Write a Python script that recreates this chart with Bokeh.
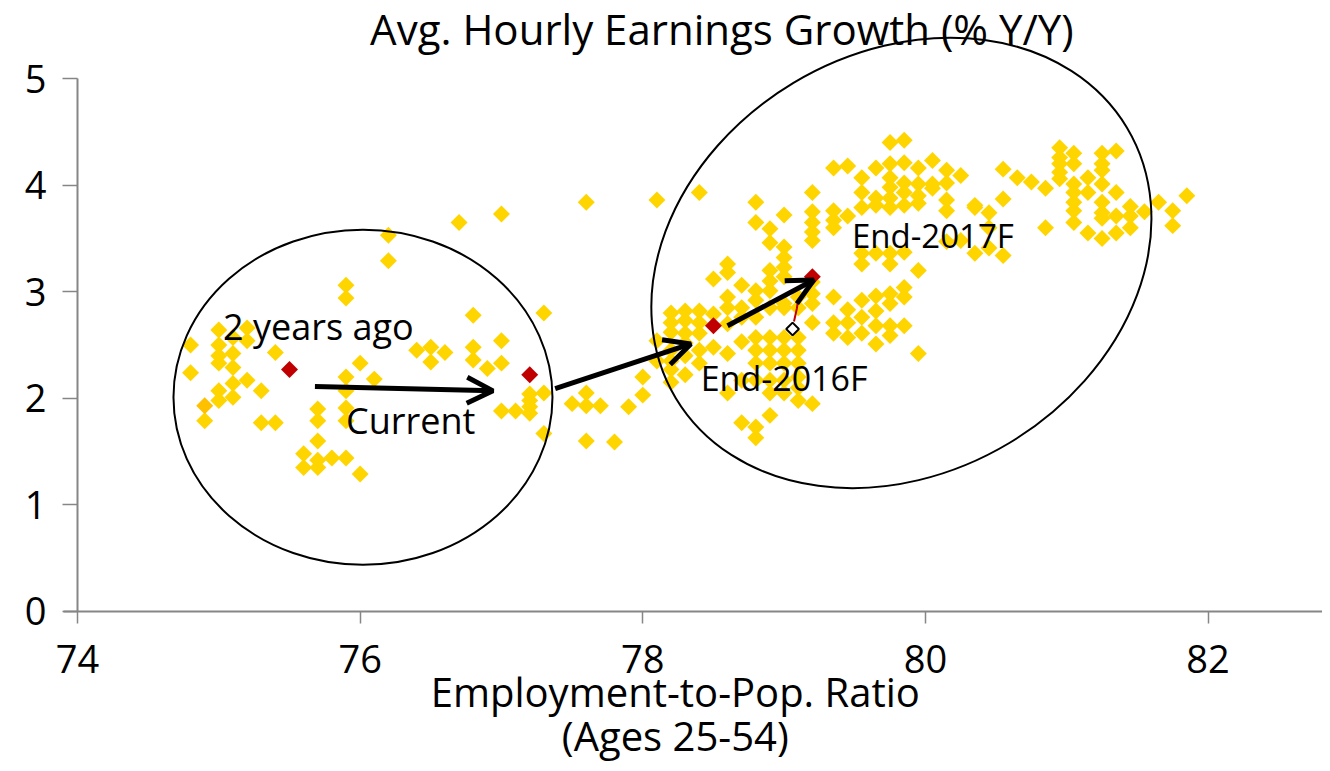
import math
from bokeh.plotting import figure
from bokeh.models import (Range1d, FixedTicker, Label, Arrow, OpenHead,
                          ColumnDataSource)
from bokeh.embed import file_html
from bokeh.resources import INLINE

# ---------------- data ----------------
# historical observations, grouped by employment-to-pop ratio column
col_emp = [74.8, 74.9, 75.0, 75.1, 75.2, 75.3, 75.4, 75.6, 75.7, 75.8,
           75.9, 76.0, 76.1, 76.2, 76.4, 76.5, 76.6, 76.7, 76.8, 76.9,
           77.0, 77.1, 77.2, 77.3, 77.5, 77.6, 77.7, 77.8, 77.9, 78.0,
           78.1, 78.2, 78.3, 78.4, 78.5, 78.6, 78.7, 78.8, 78.9, 79.0,
           79.1, 79.2, 79.35, 79.45, 79.55, 79.65, 79.75, 79.85, 79.95, 80.05,
           80.15, 80.25, 80.35, 80.45, 80.55, 80.65, 80.75, 80.85, 80.95, 81.05,
           81.15, 81.25, 81.35, 81.45, 81.55, 81.65, 81.75, 81.85]
col_ahe = [
    [2.50, 2.24], [1.79], [2.64, 2.50, 2.40, 2.33, 2.07, 1.98],
    [2.57, 2.42, 2.29, 2.14, 2.01], [2.66, 2.54, 2.17], [2.07, 1.77],
    [2.43, 1.77], [1.48, 1.35], [1.90, 1.79, 1.60, 1.42, 1.35], [1.44],
    [3.06, 2.94, 2.20, 2.07, 1.91, 1.79, 1.44], [2.33, 1.29], [2.18],
    [3.53, 3.29], [2.45], [2.48, 2.34], [2.43], [3.65], [2.78, 2.48, 2.36],
    [2.28], [3.73, 2.54, 2.33, 1.88], [1.88], [2.04, 1.98, 1.92, 1.86],
    [2.80, 2.05, 1.67], [1.95], [3.84, 2.05, 1.93, 1.60], [1.93], [1.59],
    [1.92], [2.03, 2.20],
    [3.86, 2.54, 2.35], [2.80, 2.71, 2.62, 2.45, 2.35, 2.27, 2.15],
    [2.82, 2.73, 2.61, 2.52, 2.40, 2.22], [3.93, 2.82, 2.71, 2.61, 2.45, 2.33],
    [3.12, 2.79, 2.48], [3.26, 3.18, 2.95, 2.85, 2.70, 2.42, 2.05],
    [3.06, 2.85, 2.76, 2.53, 2.17, 1.77],
    [3.84, 3.65, 3.01, 2.92, 2.76, 2.57, 2.45, 2.33, 2.17, 1.73, 1.63],
    [3.59, 3.46, 3.20, 3.10, 3.01, 2.85, 2.57, 2.45, 2.33, 2.17, 2.05, 1.84],
    [3.72, 3.42, 3.32, 3.23, 3.14, 2.89, 2.85, 2.57, 2.45, 2.33, 2.17, 2.05],
    [2.95, 2.85, 2.57, 2.45, 2.33, 2.20, 2.10, 1.98],
    [3.93, 3.75, 3.65, 3.56, 3.48, 3.09, 2.98, 2.89, 2.71, 1.95],
    [4.16, 3.76, 3.67, 3.60, 2.95, 2.71, 2.61], [4.18, 3.71, 2.83, 2.71, 2.57],
    [4.07, 3.93, 3.79, 3.36, 3.26, 2.92, 2.76, 2.61],
    [4.16, 3.88, 3.81, 3.36, 2.96, 2.82, 2.68, 2.51],
    [4.40, 4.20, 4.07, 3.98, 3.88, 3.79, 3.36, 3.26, 2.98, 2.89, 2.68, 2.59],
    [4.42, 4.21, 4.02, 3.93, 3.81, 3.37, 3.04, 2.95, 2.68],
    [4.16, 4.01, 3.90, 3.83, 3.20, 2.42], [4.23, 4.01, 3.97],
    [4.14, 4.02, 3.86, 3.76, 3.47], [4.09, 3.48], [3.81, 3.79, 3.36],
    [3.74, 3.60, 3.41], [4.15, 3.87, 3.34], [4.07], [4.03], [3.97, 3.60],
    [4.35, 4.26, 4.20, 4.12, 4.06], [4.30, 4.20, 4.01, 3.93, 3.84, 3.76, 3.65],
    [4.07, 3.93, 3.55], [4.30, 4.20, 4.14, 4.01, 3.84, 3.74, 3.69, 3.50],
    [4.32, 3.93, 3.71, 3.55], [3.80, 3.71, 3.60], [3.75], [3.84],
    [3.76, 3.62], [3.90],
]
# a single highlighted (orange) observation
orange_emp = [74.9]
orange_ahe = [1.93]
# key points: 2 years ago, current, end-2016F, end-2017F
key_emp = [75.5, 77.2, 78.5, 79.2]
key_ahe = [2.27, 2.22, 2.68, 3.14]
# alternative scenario (hollow marker) and its small red connector
alt_emp = [79.06]
alt_ahe = [2.65]
conn_emp = [79.07, 79.09, 79.10]
conn_ahe = [2.72, 2.84, 2.93]

x_ticks = [74, 76, 78, 80, 82]
y_ticks = [0, 1, 2, 3, 4, 5]

emp = [x for x, ys in zip(col_emp, col_ahe) for _ in ys]
ahe = [y for ys in col_ahe for y in ys]

# ---------------- figure ----------------
FONT = "Open Sans"
W, H = 1322, 763
p = figure(width=W, height=H, output_backend="svg", toolbar_location=None,
           x_range=Range1d(73.455, 82.81), y_range=Range1d(-1.426, 5.732),
           min_border_left=0, min_border_top=0, min_border_right=0,
           min_border_bottom=0)
p.outline_line_color = None
p.grid.visible = False
p.background_fill_color = "white"
p.border_fill_color = "white"

for ax in (p.xaxis[0], p.yaxis[0]):
    ax.axis_line_color = "#868686"
    ax.axis_line_width = 2
    ax.major_tick_line_color = "#868686"
    ax.major_tick_line_width = 1.5
    ax.major_tick_in = 0
    ax.minor_tick_line_color = None
    ax.major_label_text_font = FONT
    ax.major_label_text_font_size = "38px"
    ax.major_label_text_color = "black"
p.xaxis.ticker = FixedTicker(ticks=x_ticks)
p.yaxis.ticker = FixedTicker(ticks=y_ticks)
p.xaxis.fixed_location = 0
p.yaxis.fixed_location = 74
p.xaxis.bounds = (73.9, 82.81)
p.yaxis.bounds = (0, 5)
p.xaxis.major_tick_out = 12
p.yaxis.major_tick_out = 15
p.xaxis.major_label_standoff = 22
p.yaxis.major_label_standoff = 16

src = ColumnDataSource(dict(x=emp, y=ahe))
p.scatter("x", "y", source=src, marker="square", angle=math.pi / 4, size=12,
          fill_color="#FFD500", line_color=None)
p.scatter(orange_emp, orange_ahe, marker="square", angle=math.pi / 4, size=12,
          fill_color="#FFC000", line_color=None)
p.scatter(key_emp, key_ahe, marker="square", angle=math.pi / 4, size=12,
          fill_color="#C00000", line_color=None)
p.line(conn_emp, conn_ahe, line_color="#C00000", line_width=2)
p.scatter(alt_emp, alt_ahe, marker="square", angle=math.pi / 4, size=9,
          fill_color="white", line_color="black", line_width=2)

# circled regimes
p.ellipse(x=[76.02], y=[2.01], width=[379], height=[335],
          width_units="screen", height_units="screen",
          fill_color=None, line_color="black", line_width=2)
p.ellipse(x=[79.83], y=[3.27], width=[526], height=[420], angle=[0.54],
          width_units="screen", height_units="screen",
          fill_color=None, line_color="black", line_width=2)

# arrows
arrows = [((75.68, 2.11), (76.94, 2.07)),
          ((77.38, 2.09), (78.34, 2.51)),
          ((78.60, 2.68), (79.21, 3.11))]
for (xs, ys), (xe, ye) in arrows:
    p.add_layout(Arrow(end=OpenHead(size=26, line_width=5, line_color="black"),
                       x_start=xs, y_start=ys, x_end=xe, y_end=ye,
                       line_width=5, line_color="black"))

def lab(x, y, text, align="left", size="36px"):
    p.add_layout(Label(x=x, y=y, text=text, text_font=FONT,
                       text_font_size=size, text_align=align,
                       text_baseline="middle", text_color="black"))

lab(75.03, 2.67, "2 years ago", size="36px")
lab(75.90, 1.79, "Current")
lab(78.41, 2.19, "End-2016F", size="34px")
lab(79.48, 3.53, "End-2017F", size="33px")
lab(78.56, 5.47, "Avg. Hourly Earnings Growth (% Y/Y)", align="center", size="42px")
lab(78.23, -0.75, "Employment-to-Pop. Ratio", align="center", size="40px")
lab(78.23, -1.165, "(Ages 25-54)", align="center", size="40px")

open("out.html", "w").write(file_html(p, INLINE))
